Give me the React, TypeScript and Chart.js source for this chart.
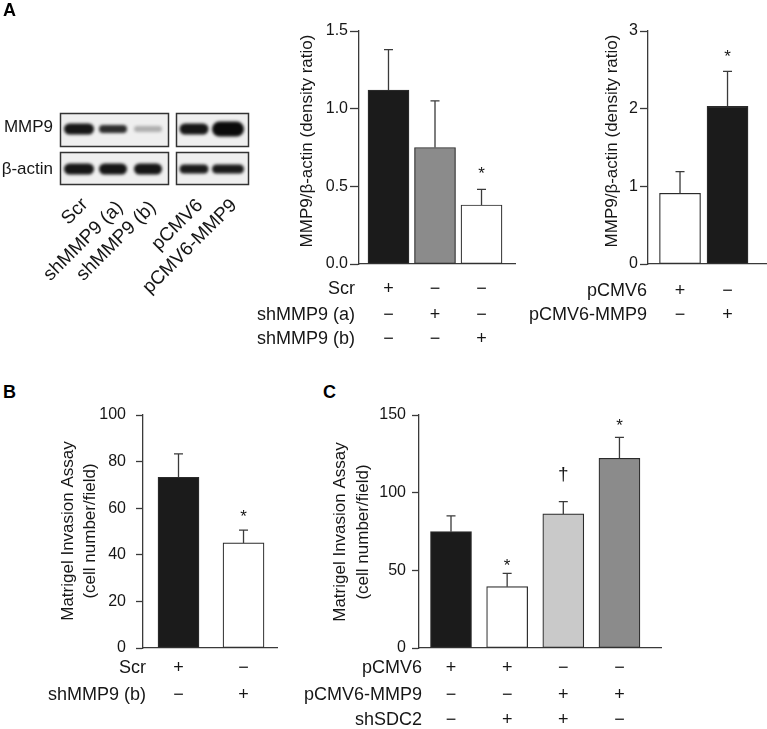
import React, { useEffect, useRef } from 'react';
import { Chart, registerables } from 'chart.js';

Chart.register(...registerables);

const PAGE_W = 767;
const PAGE_H = 729;
const FONT = '"Liberation Sans", Arial, Helvetica, sans-serif';
const INK = '#161616';
const AXIS = '#3a3a3a';

// ---------- Panel A: western blot ----------
const blotLanes = ['Scr', 'shMMP9 (a)', 'shMMP9 (b)', 'pCMV6', 'pCMV6-MMP9'];
const blotMmp9Density = [0.95, 0.85, 0.28, 0.95, 1.0];
const blotActinDensity = [0.95, 0.95, 0.95, 0.93, 0.93];

// ---------- Panel A: shMMP9 knock-down densitometry ----------
const aKdRows = ['Scr', 'shMMP9 (a)', 'shMMP9 (b)'];
const aKdSigns = [
  ['+', '−', '−'],
  ['−', '+', '−'],
  ['−', '−', '+'],
];
const aKdValues = [1.12, 0.75, 0.38];
const aKdErrors = [0.26, 0.3, 0.1];
const aKdMarks = ['', '', '*'];
const aKdMarkLevels = [0, 0, 0.61];
const aKdTicks = [0, 0.5, 1.0, 1.5];

// ---------- Panel A: MMP9 over-expression densitometry ----------
const aOeRows = ['pCMV6', 'pCMV6-MMP9'];
const aOeSigns = [
  ['+', '−'],
  ['−', '+'],
];
const aOeValues = [0.91, 2.03];
const aOeErrors = [0.28, 0.45];
const aOeMarks = ['', '*'];
const aOeMarkLevels = [0, 2.73];
const aOeTicks = [0, 1, 2, 3];

// ---------- Panel B ----------
const bRows = ['Scr', 'shMMP9 (b)'];
const bSigns = [
  ['+', '−'],
  ['−', '+'],
];
const bValues = [73.3, 45.1];
const bErrors = [10.0, 5.5];
const bMarks = ['', '*'];
const bMarkLevels = [0, 58.4];
const bTicks = [0, 20, 40, 60, 80, 100];

// ---------- Panel C ----------
const cRows = ['pCMV6', 'pCMV6-MMP9', 'shSDC2'];
const cSigns = [
  ['+', '+', '−', '−'],
  ['−', '−', '+', '+'],
  ['−', '+', '+', '−'],
];
const cValues = [74.9, 39.5, 86.3, 122.1];
const cErrors = [10.1, 8.6, 7.9, 13.5];
const cMarks = ['', '*', '†', '*'];
const cMarkLevels = [0, 55.6, 111.4, 146.1];
const cTicks = [0, 50, 100, 150];

const yTitleA = ['MMP9/β-actin (density ratio)'];
const yTitleInvasion = ['Matrigel Invasion Assay', '(cell number/field)'];

const BLACK = '#1b1b1b';
const GREY = '#8b8b8b';
const LIGHT = '#c9c9c9';
const WHITE = '#ffffff';

type PanelSpec = {
  values: number[];
  errors: number[];
  colors: string[];
  marks: string[];
  markLevels: number[];
  rows: string[];
  signs: string[][];
  ticks: number[];
  decimals: number;
  title: string[];
  area: [number, number, number, number];
  xRange: [number, number];
  tickLength: number;
  tickPad: number;
  rowY: number[];
  rowRight: number;
  titleX: number[];
  titleY: number;
};

const specAKd: PanelSpec = {
  values: aKdValues, errors: aKdErrors, colors: [BLACK, GREY, WHITE],
  marks: aKdMarks, markLevels: aKdMarkLevels, rows: aKdRows, signs: aKdSigns,
  ticks: aKdTicks, decimals: 1, title: yTitleA,
  area: [359, 31, 515, 264], xRange: [0.366, 3.72], tickLength: 9, tickPad: 2,
  rowY: [289, 315, 339], rowRight: 355, titleX: [307], titleY: 141,
};

const specAOe: PanelSpec = {
  values: aOeValues, errors: aOeErrors, colors: [WHITE, BLACK],
  marks: aOeMarks, markLevels: aOeMarkLevels, rows: aOeRows, signs: aOeSigns,
  ticks: aOeTicks, decimals: 0, title: yTitleA,
  area: [648, 31, 766, 264], xRange: [0.326, 2.81], tickLength: 8, tickPad: 2,
  rowY: [291, 315], rowRight: 647, titleX: [612], titleY: 141,
};

const specB: PanelSpec = {
  values: bValues, errors: bErrors, colors: [BLACK, WHITE],
  marks: bMarks, markLevels: bMarkLevels, rows: bRows, signs: bSigns,
  ticks: bTicks, decimals: 0, title: yTitleInvasion,
  area: [143, 415, 277, 648], xRange: [0.454, 2.515], tickLength: 7, tickPad: 10,
  rowY: [668, 695], rowRight: 146, titleX: [68, 90], titleY: 531,
};

const specC: PanelSpec = {
  values: cValues, errors: cErrors, colors: [BLACK, WHITE, LIGHT, GREY],
  marks: cMarks, markLevels: cMarkLevels, rows: cRows, signs: cSigns,
  ticks: cTicks, decimals: 0, title: yTitleInvasion,
  area: [419, 415, 661, 648], xRange: [0.43, 4.74], tickLength: 7, tickPad: 6,
  rowY: [668, 695, 720], rowRight: 422, titleX: [340, 363], titleY: 532,
};

function makeExtras(p: PanelSpec) {
  return {
    id: 'extras',
    afterDatasetsDraw(chart: any) {
      const ctx: CanvasRenderingContext2D = chart.ctx;
      const xs = chart.scales.x;
      const ys = chart.scales.y;
      ctx.save();
      // error bars (upper half)
      ctx.strokeStyle = AXIS;
      ctx.lineWidth = 1.3;
      p.values.forEach((v, i) => {
        const cx = xs.getPixelForValue(i + 1);
        const y0 = ys.getPixelForValue(v);
        const y1 = ys.getPixelForValue(v + p.errors[i]);
        ctx.beginPath();
        ctx.moveTo(cx, y0);
        ctx.lineTo(cx, y1);
        ctx.moveTo(cx - 4.5, y1);
        ctx.lineTo(cx + 4.5, y1);
        ctx.stroke();
      });
      // significance marks
      ctx.fillStyle = INK;
      ctx.textAlign = 'center';
      ctx.textBaseline = 'alphabetic';
      p.marks.forEach((m, i) => {
        if (!m) return;
        const cx = xs.getPixelForValue(i + 1);
        const cy = ys.getPixelForValue(p.markLevels[i]);
        const fs = m === '*' ? 17 : 19;
        ctx.font = `${fs}px ${FONT}`;
        const shift = m === '*' ? 0.57 * fs : 0.28 * fs;
        ctx.fillText(m, cx, cy + shift);
      });
      // condition table
      ctx.font = `18px ${FONT}`;
      ctx.textBaseline = 'middle';
      p.rows.forEach((label, r) => {
        ctx.textAlign = 'right';
        ctx.fillText(label, p.rowRight, p.rowY[r]);
        ctx.textAlign = 'center';
        p.signs[r].forEach((s, i) => {
          ctx.fillText(s, xs.getPixelForValue(i + 1), p.rowY[r]);
        });
      });
      // y axis title
      p.title.forEach((line, k) => {
        ctx.save();
        ctx.translate(p.titleX[k], p.titleY);
        ctx.rotate(-Math.PI / 2);
        ctx.textAlign = 'center';
        ctx.textBaseline = 'middle';
        ctx.font = `17px ${FONT}`;
        ctx.fillText(line, 0, 0);
        ctx.restore();
      });
      ctx.restore();
    },
  };
}

function BarPanel({ spec }: { spec: PanelSpec }) {
  const ref = useRef<HTMLCanvasElement>(null);
  useEffect(() => {
    const [l, t, r, b] = spec.area;
    const YW = 70;
    const chart = new Chart(ref.current as HTMLCanvasElement, {
      type: 'bar',
      data: {
        datasets: [
          {
            data: spec.values.map((v, i) => ({ x: i + 1, y: v })),
            backgroundColor: spec.colors,
            borderColor: '#2b2b2b',
            borderWidth: 1.2,
            borderSkipped: false,
            barThickness: 41,
          } as any,
        ],
      },
      options: {
        responsive: false,
        animation: false,
        devicePixelRatio: 1,
        events: [],
        layout: { padding: { left: l - YW, top: t, right: PAGE_W - r, bottom: PAGE_H - b } },
        plugins: { legend: { display: false }, tooltip: { enabled: false } },
        scales: {
          x: {
            type: 'linear',
            min: spec.xRange[0],
            max: spec.xRange[1],
            offset: false,
            grid: { display: false },
            ticks: { display: false },
            border: { display: true, color: AXIS, width: 1.3 },
            afterFit: (s: any) => {
              s.height = 0;
              s.paddingLeft = 0;
              s.paddingRight = 0;
            },
          },
          y: {
            type: 'linear',
            min: spec.ticks[0],
            max: spec.ticks[spec.ticks.length - 1],
            afterBuildTicks: (s: any) => {
              s.ticks = spec.ticks.map((v) => ({ value: v }));
            },
            ticks: {
              callback: (v: any) => Number(v).toFixed(spec.decimals),
              font: { family: FONT, size: 16 },
              color: INK,
              padding: spec.tickPad,
            },
            grid: {
              drawOnChartArea: false,
              drawTicks: true,
              tickLength: spec.tickLength,
              tickColor: AXIS,
              tickWidth: 1.3,
            },
            border: { display: true, color: AXIS, width: 1.3 },
            afterFit: (s: any) => {
              s.width = YW;
              s.paddingTop = 0;
              s.paddingBottom = 0;
            },
          },
        } as any,
      },
      plugins: [makeExtras(spec)],
    });
    return () => chart.destroy();
  }, [spec]);
  return (
    <canvas
      ref={ref}
      width={PAGE_W}
      height={PAGE_H}
      style={{ position: 'absolute', left: 0, top: 0, width: PAGE_W, height: PAGE_H }}
    />
  );
}

// blot layout
const laneCenters = [79, 113, 148, 194, 228];
const laneBandW = [30, 28, 28, 29, 32];
const mmp9BandH = [11, 8, 6, 11, 15];
const actinBandH = [11, 11, 11, 9, 9];

function Blot() {
  const ref = useRef<HTMLCanvasElement>(null);
  useEffect(() => {
    const ctx = (ref.current as HTMLCanvasElement).getContext('2d') as CanvasRenderingContext2D;
    ctx.clearRect(0, 0, 260, 200);
    const boxes = [
      { x: 60, w: 108, lanes: [0, 1, 2] },
      { x: 176, w: 72, lanes: [3, 4] },
    ];
    const strips = [
      { y: 113, h: 33, dens: blotMmp9Density, bh: mmp9BandH, cy: 129 },
      { y: 152, h: 32, dens: blotActinDensity, bh: actinBandH, cy: 169 },
    ];
    strips.forEach((s) => {
      boxes.forEach((bx) => {
        ctx.fillStyle = '#efefef';
        ctx.fillRect(bx.x, s.y, bx.w, s.h);
        ctx.save();
        ctx.filter = 'blur(1.5px)';
        bx.lanes.forEach((li) => {
          const w = laneBandW[li];
          const h = s.bh[li];
          ctx.fillStyle = `rgba(10,10,10,${s.dens[li]})`;
          ctx.beginPath();
          (ctx as any).roundRect(laneCenters[li] - w / 2, s.cy - h / 2, w, h, h / 2);
          ctx.fill();
        });
        ctx.restore();
        ctx.strokeStyle = '#333';
        ctx.lineWidth = 1.5;
        ctx.strokeRect(bx.x + 0.5, s.y + 0.5, bx.w, s.h);
      });
    });
  }, []);
  return <canvas ref={ref} width={260} height={200} style={{ position: 'absolute', left: 0, top: 0 }} />;
}

const laneAnchors: [number, number][] = [
  [84, 201],
  [119, 204],
  [152, 204],
  [199, 202],
  [234, 202],
];

const letterStyle: React.CSSProperties = {
  position: 'absolute',
  fontFamily: FONT,
  fontWeight: 'bold',
  fontSize: 18,
  lineHeight: '18px',
  color: '#000',
};

export default function App() {
  return (
    <div
      style={{
        position: 'absolute',
        left: 0,
        top: 0,
        width: PAGE_W,
        height: PAGE_H,
        background: '#fff',
        overflow: 'hidden',
        fontFamily: FONT,
        color: INK,
      }}
    >
      <Blot />
      <div style={{ ...letterStyle, left: 3, top: 1 }}>A</div>
      <div style={{ ...letterStyle, left: 3, top: 383 }}>B</div>
      <div style={{ ...letterStyle, left: 323, top: 383 }}>C</div>
      <div style={{ position: 'absolute', right: PAGE_W - 53, top: 117, lineHeight: '20px', fontSize: 17, whiteSpace: 'nowrap' }}>MMP9</div>
      <div style={{ position: 'absolute', right: PAGE_W - 53, top: 159, lineHeight: '20px', fontSize: 17, whiteSpace: 'nowrap' }}>β-actin</div>
      {blotLanes.map((name, i) => (
        <div
          key={name}
          style={{
            position: 'absolute',
            right: PAGE_W - laneAnchors[i][0],
            top: laneAnchors[i][1] - 10,
            height: 20,
            lineHeight: '20px',
            fontSize: 19,
            whiteSpace: 'nowrap',
            transformOrigin: '100% 50%',
            transform: 'rotate(-45deg)',
          }}
        >
          {name}
        </div>
      ))}
      <BarPanel spec={specAKd} />
      <BarPanel spec={specAOe} />
      <BarPanel spec={specB} />
      <BarPanel spec={specC} />
    </div>
  );
}
